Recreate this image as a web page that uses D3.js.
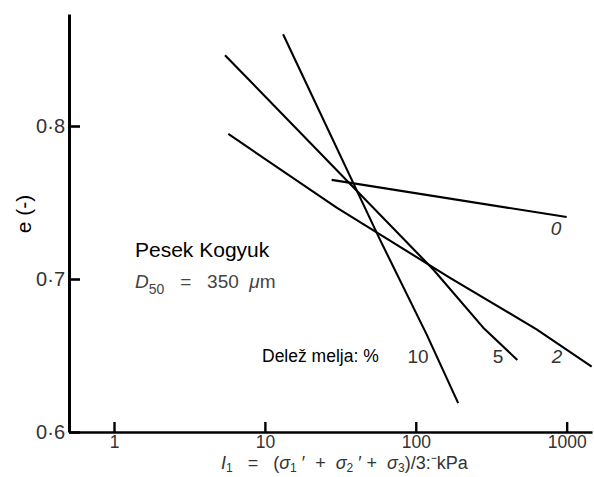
<!DOCTYPE html>
<html>
<head>
<meta charset="utf-8">
<script src="https://cdn.jsdelivr.net/npm/d3@7"></script>
<style>
  html, body { margin: 0; padding: 0; background: #fff; }
  svg { display: block; }
  text { font-family: "Liberation Sans", Arial, sans-serif; }
</style>
</head>
<body>
<svg id="chart" width="594" height="477"></svg>
<script>
// ---- data ----
const xTickValues = [1, 10, 100, 1000];
const xTickLabels = ["1", "10", "100", "1000"];
const yTickValues = [0.6, 0.7, 0.8];
const yTickLabels = ["0·6", "0·7", "0·8"];

const seriesNames = ["0", "2", "5", "10"];
const x0 = [27.7, 1000];
const e0 = [0.7648, 0.7405];
const x2 = [5.72, 29.9, 168.6, 632, 1465];
const e2 = [0.7948, 0.7466, 0.7008, 0.6671, 0.6428];
const x5 = [5.44, 12.0, 130.6, 280, 471];
const e5 = [0.8463, 0.8115, 0.7062, 0.6682, 0.6471];
const x10 = [13.2, 57.9, 118, 191];
const e10 = [0.86, 0.7257, 0.6638, 0.6189];
// label anchors (data coordinates)
const labelX = [849, 863, 351, 103.5];
const labelE = [0.7288, 0.6451, 0.6451, 0.6451];

const seriesX = [x0, x2, x5, x10];
const seriesE = [e0, e2, e5, e10];

// ---- scales ----
const svg = d3.select("#chart");
const x = d3.scaleLog().domain([0.5032, 1472]).range([69, 592]);
const y = d3.scaleLinear().domain([0.6, 0.8732]).range([432, 14]);

// ---- axes ----
const xAxis = d3.axisBottom(x).tickValues(xTickValues)
  .tickFormat((d, i) => xTickLabels[i]).tickSizeInner(-10).tickSizeOuter(0).tickPadding(3);
const gx = svg.append("g").attr("transform", "translate(0,432)").call(xAxis);
gx.select(".domain").attr("stroke", "#000").attr("stroke-width", 2.6);
gx.selectAll(".tick line").attr("stroke", "#000").attr("stroke-width", 2.4);
gx.selectAll(".tick text").attr("font-size", 17.5).attr("fill", "#333")
  .attr("font-family", "'Liberation Sans', Arial, sans-serif").attr("dy", "0.72em");

const yAxis = d3.axisLeft(y).tickValues(yTickValues)
  .tickFormat((d, i) => yTickLabels[i]).tickSizeInner(-11).tickSizeOuter(0).tickPadding(4);
const gy = svg.append("g").attr("transform", "translate(69,0)").call(yAxis);
gy.select(".domain").attr("stroke", "#000").attr("stroke-width", 3);
gy.selectAll(".tick line").attr("stroke", "#000").attr("stroke-width", 2.6);
gy.selectAll(".tick text").attr("font-size", 20).attr("fill", "#333")
  .attr("font-family", "'Liberation Sans', Arial, sans-serif");

// ---- lines ----
const line = d3.line().x(d => x(d[0])).y(d => y(d[1]));
seriesX.forEach((xs, i) => {
  const pts = xs.map((v, j) => [v, seriesE[i][j]]);
  svg.append("path").datum(pts).attr("d", line)
    .attr("fill", "none").attr("stroke", "#000").attr("stroke-width", 2.1)
    .attr("stroke-linejoin", "round");
});

// series labels
seriesNames.forEach((n, i) => {
  svg.append("text").attr("x", x(labelX[i])).attr("y", y(labelE[i]))
    .attr("text-anchor", "middle").attr("font-size", 19).attr("fill", "#333")
    .attr("font-style", (n === "0" || n === "2") ? "italic" : "normal")
    .text(n);
});

// ---- texts ----
svg.append("text").attr("transform", "translate(31,214) rotate(-90)")
  .attr("text-anchor", "middle").attr("font-size", 21).attr("fill", "#000")
  .text("e (-)");

svg.append("text").attr("x", 135).attr("y", 256.5).attr("font-size", 21)
  .attr("fill", "#000").text("Pesek Kogyuk");

const d50 = svg.append("text").attr("x", 135).attr("y", 288).attr("font-size", 19).attr("fill", "#444")
  .style("white-space", "pre");
d50.append("tspan").attr("font-style", "italic").text("D");
d50.append("tspan").attr("font-size", 14).attr("dy", 6).text("50");
d50.append("tspan").attr("dy", -6).text("   =   350  ");
d50.append("tspan").attr("font-style", "italic").text("μ");
d50.append("tspan").text("m");

svg.append("text").attr("x", 262).attr("y", 362).attr("font-size", 17.5)
  .attr("fill", "#000").text("Delež melja: %");

const xl = svg.append("text").attr("x", 221).attr("y", 469).attr("font-size", 18).attr("fill", "#333")
  .style("white-space", "pre");
xl.append("tspan").attr("font-style", "italic").text("I");
xl.append("tspan").attr("font-size", 12).attr("dy", 3).text("1");
xl.append("tspan").attr("dy", -3).text("   =   (");
xl.append("tspan").attr("font-style", "italic").text("σ");
xl.append("tspan").attr("font-size", 12).attr("dy", 3).text("1");
xl.append("tspan").attr("dy", -3).text(" ′  +  ");
xl.append("tspan").attr("font-style", "italic").text("σ");
xl.append("tspan").attr("font-size", 12).attr("dy", 3).text("2");
xl.append("tspan").attr("dy", -3).text(" ′ +  ");
xl.append("tspan").attr("font-style", "italic").text("σ");
xl.append("tspan").attr("font-size", 12).attr("dy", 3).text("3");
xl.append("tspan").attr("dy", -3).text(")/3:⁻kPa");
</script>
</body>
</html>
